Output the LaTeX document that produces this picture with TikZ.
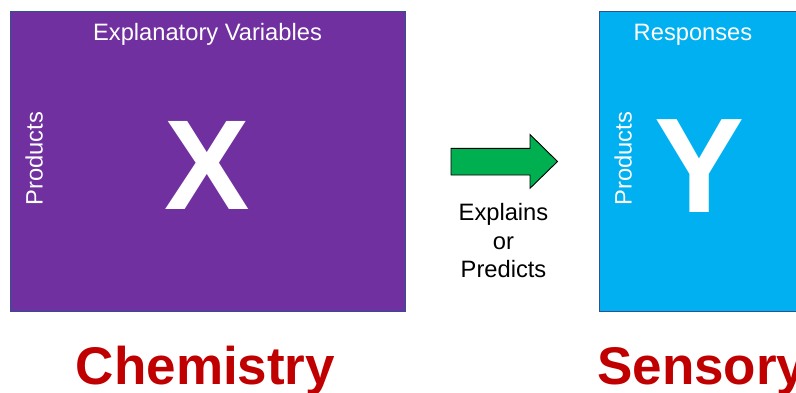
\documentclass[tikz,border=0pt]{standalone}
\usepackage{fontspec}
\setmainfont{Liberation Sans}
\definecolor{xpurple}{HTML}{7030A0}
\definecolor{ycyan}{HTML}{00B0F0}
\definecolor{edgeblue}{HTML}{2F528F}
\definecolor{agreen}{HTML}{00B050}
\definecolor{dred}{HTML}{C00000}
\tikzset{
  panel/.style={draw=edgeblue, line width=0.9pt},
  wlabel/.style={text=white, font=\fontsize{23.7}{28}\selectfont, inner sep=0pt},
  biglet/.style={text=white, inner sep=0pt},
  subject/.style={text=dred, font=\fontsize{53}{60}\selectfont\bfseries, inner sep=0pt, anchor=base},
  blabel/.style={text=black, font=\fontsize{23.7}{28.7}\selectfont, inner sep=0pt, align=center}
}
\begin{document}
\begin{tikzpicture}[x=1pt,y=-1pt]
\useasboundingbox (0,0) rectangle (796,392);
\fill[white] (0,0) rectangle (796,392);
% panels
\draw[panel, fill=xpurple] (10,11) rectangle (405,311);
\draw[panel, fill=ycyan] (599,11) rectangle (812,311);
% headers
\node[wlabel, anchor=base] (xhead) at (207.5,40) {Explanatory Variables};
\node[wlabel, anchor=base] (yhead) at (693,40) {Responses};
% side labels
\node[wlabel, anchor=base, rotate=90] (xprod) at (42.5,158.5) {Products};
\node[wlabel, anchor=base, rotate=90] (yprod) at (631.5,158.5) {Products};
% big letters
\node[biglet, font=\fontsize{128}{130}\selectfont\bfseries, anchor=base] (X) at (207.5,209) {X};
\node[biglet, font=\fontsize{135}{140}\selectfont\bfseries, anchor=base] (Y) at (700,212) {Y};
% arrow
\draw[fill=agreen, draw=black, line width=0.9pt]
  (451,148.3) -- (530,148.3) -- (530,134.5) -- (557.5,161.5) -- (530,188.3) -- (530,175) -- (451,175) -- cycle;
\node[blabel, anchor=north] (expl) at (503.5,203) {Explains\\or\\Predicts};
% subjects
\node[subject] (chem) at (205.5,384) {Chemistry};
\node[subject, anchor=base west] (sens) at (597,384) {Sensory};
\end{tikzpicture}
\end{document}
